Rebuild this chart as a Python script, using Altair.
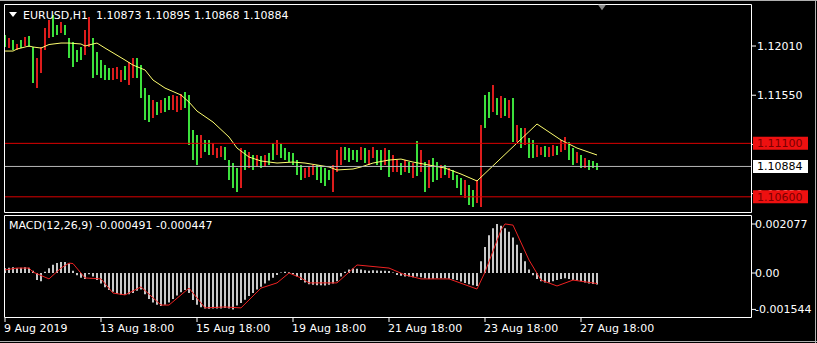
import altair as alt
import pandas as pd

# ---------------- data ----------------
highs = [1.12113, 1.12085, 1.12066, 1.12029, 1.12066, 1.12094, 1.12104, 1.12001, 1.11898, 1.12001,
         1.12178, 1.12253, 1.12300, 1.12206, 1.12234, 1.12206, 1.12085, 1.12047, 1.11973, 1.12001,
         1.12160, 1.12281, 1.12085, 1.11954, 1.11879, 1.11832, 1.11804, 1.11804, 1.11814, 1.11786,
         1.11823, 1.11860, 1.11898, 1.11898, 1.11832, 1.11617, 1.11552, 1.11505, 1.11486, 1.11505,
         1.11524, 1.11543, 1.11552, 1.11543, 1.11561, 1.11580, 1.11552, 1.11225, 1.11178, 1.11178,
         1.11131, 1.11131, 1.11103, 1.11056, 1.11075, 1.11066, 1.10944, 1.10916, 1.10869, 1.11056,
         1.11038, 1.11019, 1.10991, 1.10991, 1.10982, 1.10991, 1.11010, 1.11103, 1.11131, 1.11094,
         1.11056, 1.11019, 1.11010, 1.10944, 1.10897, 1.10869, 1.10879, 1.10897, 1.10897, 1.10879,
         1.10869, 1.10851, 1.10897, 1.11038, 1.11066, 1.11066, 1.11056, 1.11038, 1.11038, 1.11066,
         1.11056, 1.11038, 1.11066, 1.11038, 1.11038, 1.11056, 1.11038, 1.10991, 1.10944, 1.10916,
         1.10944, 1.10925, 1.10916, 1.11122, 1.11038, 1.10925, 1.10944, 1.10963, 1.10925, 1.10897,
         1.10897, 1.10869, 1.10851, 1.10804, 1.10776, 1.10757, 1.10710, 1.10664, 1.10757, 1.11271,
         1.11552, 1.11580, 1.11645, 1.11524, 1.11543, 1.11524, 1.11505, 1.11524, 1.11271, 1.11243,
         1.11243, 1.11150, 1.11131, 1.11084, 1.11066, 1.11075, 1.11066, 1.11084, 1.11075, 1.11131,
         1.11159, 1.11112, 1.11056, 1.11019, 1.10991, 1.10963, 1.10944, 1.10935, 1.10916]

lows = [1.12001, 1.11991, 1.11973, 1.11973, 1.11991, 1.12010, 1.12001, 1.11664, 1.11617, 1.11758,
        1.11973, 1.12085, 1.12094, 1.12113, 1.12132, 1.12113, 1.11898, 1.11814, 1.11860, 1.11879,
        1.11926, 1.12001, 1.11711, 1.11739, 1.11711, 1.11692, 1.11692, 1.11692, 1.11701, 1.11673,
        1.11692, 1.11645, 1.11711, 1.11711, 1.11524, 1.11318, 1.11299, 1.11337, 1.11365, 1.11384,
        1.11393, 1.11412, 1.11412, 1.11393, 1.11412, 1.11430, 1.11084, 1.10944, 1.10897, 1.10963,
        1.11019, 1.10991, 1.10991, 1.10963, 1.10972, 1.10944, 1.10757, 1.10682, 1.10645, 1.10682,
        1.10851, 1.10869, 1.10851, 1.10879, 1.10869, 1.10879, 1.10897, 1.10944, 1.10991, 1.10963,
        1.10944, 1.10925, 1.10897, 1.10804, 1.10757, 1.10776, 1.10785, 1.10804, 1.10757, 1.10729,
        1.10701, 1.10757, 1.10645, 1.10832, 1.10897, 1.10944, 1.10925, 1.10944, 1.10925, 1.10944,
        1.10916, 1.10897, 1.10963, 1.10897, 1.10851, 1.10897, 1.10785, 1.10832, 1.10832, 1.10804,
        1.10832, 1.10823, 1.10776, 1.10795, 1.10832, 1.10645, 1.10682, 1.10738, 1.10757, 1.10776,
        1.10804, 1.10776, 1.10757, 1.10682, 1.10617, 1.10589, 1.10523, 1.10505, 1.10542, 1.10505,
        1.11243, 1.11337, 1.11393, 1.11365, 1.11337, 1.11356, 1.11337, 1.11112, 1.11112, 1.11056,
        1.11084, 1.10963, 1.10963, 1.10972, 1.10991, 1.10972, 1.10972, 1.10982, 1.10991, 1.11019,
        1.11038, 1.10944, 1.10897, 1.10916, 1.10869, 1.10869, 1.10851, 1.10869, 1.10851]

# G = up bar (green), R = down bar (red)
directions = list("GRGRGRGGRR" "RRGGRGGGGG" "RRGGGGGRRR" "GRRGGGGRGR" "GGRRRGGGGR"
                  "GGRRRGGGGR" "GRGRGRGGRG" "GGGGGRRRGG" "GGRRRGGGGR" "GRRGGRGRRG"
                  "RGRGRGRGGR" "GRGGGRGGRR" "GGRGRGRGRG" "RGGRRGRRGR" "RGGRGRGGG")

macd_main = [0.00020, 0.00022, 0.00024, 0.00020, 0.00022, 0.00024, 0.00022, 0.00010, -0.00030, -0.00035,
             0.00005, 0.00020, 0.00035, 0.00042, 0.00047, 0.00047, 0.00040, 0.00010, -0.00010, -0.00020,
             -0.00025, -0.00005, -0.00015, -0.00030, -0.00045, -0.00060, -0.00072, -0.00080, -0.00088, -0.00092,
             -0.00092, -0.00090, -0.00085, -0.00075, -0.00070, -0.00090, -0.00110, -0.00125, -0.00135, -0.00140,
             -0.00135, -0.00125, -0.00110, -0.00095, -0.00082, -0.00072, -0.00085, -0.00115, -0.00135, -0.00145,
             -0.00150, -0.00152, -0.00150, -0.00150, -0.00150, -0.00148, -0.00150, -0.001544, -0.00138, -0.00127,
             -0.00113, -0.00098, -0.00085, -0.00070, -0.00058, -0.00045, -0.00032, -0.00020, -0.00008, 0.00002,
             0.00005, 0.00003, -0.00005, -0.00015, -0.00030, -0.00040, -0.00048, -0.00050, -0.00052, -0.00052,
             -0.00053, -0.00050, -0.00045, -0.00035, -0.00015, 0.00005, 0.00015, 0.00019, 0.00018, 0.00015,
             0.00012, 0.00010, 0.00012, 0.00011, 0.00010, 0.00010, 0.00008, 0.00002, -0.00008, -0.00012,
             -0.00015, -0.00015, -0.00018, -0.00015, -0.00018, -0.00022, -0.00025, -0.00024, -0.00022, -0.00022,
             -0.00022, -0.00024, -0.00026, -0.00030, -0.00036, -0.00042, -0.00048, -0.00052, -0.00055, 0.00050,
             0.00110, 0.00160, 0.00190, 0.002077, 0.00200, 0.00190, 0.00175, 0.00150, 0.00120, 0.00085,
             0.00050, 0.00015, -0.00010, -0.00025, -0.00035, -0.00040, -0.00040, -0.00035, -0.00030, -0.00025,
             -0.00022, -0.00025, -0.00030, -0.00032, -0.00035, -0.00040, -0.00044, -0.00047, -0.000491]

signal_idx = [0, 3, 6, 7, 11, 14, 16, 17, 20, 24, 27, 30, 34, 39, 41, 46, 50, 55, 59, 64,
              68, 71, 74, 76, 83, 88, 96, 100, 104, 111, 118, 120, 124, 125, 127, 131, 134, 138, 142, 148]
signal_val = [0.00013, 0.00021, 0.00021, 0.00004, -0.00025, 0.00021, 0.00042, 0.00040, -0.00021, -0.00025,
              -0.00085, -0.00093, -0.00059, -0.00136, -0.00136, -0.00064, -0.00148, -0.00144, -0.00148, -0.00064,
              -0.00042, 0.0, -0.00021, -0.00042, -0.00042, 0.00034, 0.00021, -0.00008, -0.00025, -0.00025,
              -0.00068, 0.00004, 0.00182, 0.00208, 0.00203, 0.00055, -0.00030, -0.00055, -0.00030, -0.000447]

ma_idx = [0, 2, 3, 6, 7, 9, 11, 14, 16, 19, 20, 22, 23, 25, 30, 32, 35, 37, 40, 44, 46, 48, 52,
          56, 58, 61, 64, 68, 72, 75, 81, 83, 87, 89, 92, 96, 99, 102, 106, 110, 114, 118, 133, 139, 143, 148]
ma_val = [1.11963, 1.11963, 1.11982, 1.12010, 1.12001, 1.11991, 1.12024, 1.12038, 1.12038, 1.12029,
          1.12010, 1.12029, 1.12038, 1.11991, 1.11879, 1.11832, 1.11786, 1.11692, 1.11617, 1.11552,
          1.11486, 1.11402, 1.11299, 1.11159, 1.11056, 1.10972, 1.10935, 1.10916, 1.10925, 1.10916,
          1.10879, 1.10851, 1.10860, 1.10879, 1.10916, 1.10944, 1.10953, 1.10925, 1.10897, 1.10869,
          1.10813, 1.10748, 1.11281, 1.11131, 1.11056, 1.10991]

date_idx = [0, 24, 48, 72, 96, 120, 144]
date_labels = ["9 Aug 2019", "13 Aug 18:00", "15 Aug 18:00", "19 Aug 18:00",
               "21 Aug 18:00", "23 Aug 18:00", "27 Aug 18:00"]
price_ticks = [1.12010, 1.11550, 1.11090, 1.10630]
macd_ticks = [0.002077, 0.0, -0.001544]
macd_tick_labels = ["0.002077", "0.00", "-0.001544"]
level_prices = [1.11100, 1.10600]
bid_price = [1.10884]
title_symbol = "EURUSD,H1"
title_ohlc = "1.10873 1.10895 1.10868 1.10884"
macd_title = "MACD(12,26,9) -0.000491 -0.000447"

# ---------------- styling ----------------
FONT = "DejaVu Sans"
GREEN = "#3ce03c"
RED = "#dd1c1c"
LEVEL_RED = "#dd0000"
TXT = "#ffffff"

n = len(highs)
bars_df = pd.DataFrame({"i": list(range(n)), "high": highs, "low": lows, "dir": directions})
macd_df = pd.DataFrame({"i": list(range(n)), "v": macd_main})
sig_df = pd.DataFrame({"i": signal_idx, "v": signal_val})
ma_df = pd.DataFrame({"i": ma_idx, "price": ma_val})
date_df = pd.DataFrame({"i": date_idx, "label": date_labels})
pt_df = pd.DataFrame({"price": price_ticks, "label": [f"{p:.5f}" for p in price_ticks]})
mt_df = pd.DataFrame({"v": macd_ticks, "label": macd_tick_labels})
lvl_df = pd.DataFrame({"price": level_prices, "label": [f"{p:.5f}" for p in level_prices]})
bid_df = pd.DataFrame({"price": bid_price, "label": [f"{p:.5f}" for p in bid_price]})
one = pd.DataFrame({"a": [0]})

XS = alt.Scale(domain=[0, 148], range=[5, 597], nice=False, zero=False)
PS = alt.Scale(domain=[1.10458, 1.12403], range=[212, 4], nice=False, zero=False)
MS = alt.Scale(domain=[-0.0018656, 0.0024592], range=[317, 215], nice=False, zero=False)

X = alt.X("i:Q", scale=XS, axis=None)
BOX = "M-1,-0.2364L1,-0.2364L1,0.2364L-1,0.2364Z"

bars = alt.Chart(bars_df).mark_rule(strokeWidth=2).encode(
    x=X,
    y=alt.Y("low:Q", scale=PS, axis=None),
    y2="high:Q",
    color=alt.Color("dir:N", scale=alt.Scale(domain=["G", "R"], range=[GREEN, RED]), legend=None),
)
ma = alt.Chart(ma_df).mark_line(color="#ffff70", strokeWidth=1).encode(
    x=X, y=alt.Y("price:Q", scale=PS, axis=None))
bid_line = alt.Chart(bid_df).mark_rule(color="#b8b8b8", strokeWidth=1).encode(
    y=alt.Y("price:Q", scale=PS, axis=None), x=alt.value(5), x2=alt.value(751))
lvl_lines = alt.Chart(lvl_df).mark_rule(color=LEVEL_RED, strokeWidth=1).encode(
    y=alt.Y("price:Q", scale=PS, axis=None), x=alt.value(5), x2=alt.value(751))

p_ticks = alt.Chart(pt_df).mark_rule(color=TXT).encode(
    y=alt.Y("price:Q", scale=PS, axis=None), x=alt.value(752), x2=alt.value(756))
p_labels = alt.Chart(pt_df).mark_text(align="left", baseline="alphabetic", dy=4, font=FONT,
                                      fontSize=11, color=TXT).encode(
    y=alt.Y("price:Q", scale=PS, axis=None), x=alt.value(757), text="label:N")

lvl_boxes = alt.Chart(lvl_df).mark_point(shape=BOX, size=3025, filled=True, opacity=1,
                                         color="#ee1010", strokeWidth=0).encode(
    y=alt.Y("price:Q", scale=PS, axis=None), x=alt.value(780.5))
lvl_text = alt.Chart(lvl_df).mark_text(align="left", baseline="alphabetic", dy=4, font=FONT,
                                       fontSize=11, color="#7a0000").encode(
    y=alt.Y("price:Q", scale=PS, axis=None), x=alt.value(757), text="label:N")
bid_box = alt.Chart(bid_df).mark_point(shape=BOX, size=3025, filled=True, opacity=1,
                                       color="#ffffff", strokeWidth=0).encode(
    y=alt.Y("price:Q", scale=PS, axis=None), x=alt.value(780.5))
bid_text = alt.Chart(bid_df).mark_text(align="left", baseline="alphabetic", dy=4, font=FONT,
                                       fontSize=11, color="#000000").encode(
    y=alt.Y("price:Q", scale=PS, axis=None), x=alt.value(757), text="label:N")

hist = alt.Chart(macd_df).mark_rule(strokeWidth=2, color="#c8c8c8").encode(
    x=X, y=alt.Y("v:Q", scale=MS, axis=None), y2=alt.datum(0))
signal = alt.Chart(sig_df).mark_line(color="#ee2222", strokeWidth=1).encode(
    x=X, y=alt.Y("v:Q", scale=MS, axis=None))
m_ticks = alt.Chart(mt_df).mark_rule(color=TXT).encode(
    y=alt.Y("v:Q", scale=MS, axis=None), x=alt.value(752), x2=alt.value(756))
m_labels = alt.Chart(mt_df).mark_text(align="left", baseline="alphabetic", dy=4, font=FONT,
                                      fontSize=11, color=TXT).encode(
    y=alt.Y("v:Q", scale=MS, axis=None), x=alt.value(755), text="label:N")

d_ticks = alt.Chart(date_df).mark_rule(color=TXT).encode(
    x=X, y=alt.value(318), y2=alt.value(322))
d_labels = alt.Chart(date_df).mark_text(align="left", baseline="alphabetic", dx=-1, font=FONT,
                                        fontSize=11, color=TXT).encode(
    x=X, y=alt.value(332), text="label:N")

main_frame = alt.Chart(one).mark_rect(fillOpacity=0, stroke="#ffffff", strokeWidth=1).encode(
    x=alt.value(4.5), x2=alt.value(751.5), y=alt.value(4.5), y2=alt.value(212.5))
macd_frame = alt.Chart(one).mark_rect(fillOpacity=0, stroke="#ffffff", strokeWidth=1).encode(
    x=alt.value(4.5), x2=alt.value(751.5), y=alt.value(215.5), y2=alt.value(317.5))
top_edge = alt.Chart(one).mark_rule(color="#b0b0b0").encode(
    x=alt.value(0), x2=alt.value(817), y=alt.value(0.5))
bottom_edge = alt.Chart(one).mark_rule(color="#b0b0b0").encode(
    x=alt.value(0), x2=alt.value(817), y=alt.value(341.5))
right_edge = alt.Chart(one).mark_rule(color="#b0b0b0").encode(
    x=alt.value(815.5), y=alt.value(0), y2=alt.value(343))

title_tri = alt.Chart(one).mark_point(shape="M-1,-0.6L1,-0.6L0,0.6Z", size=64, filled=True,
                                      opacity=1, color="#ffffff", strokeWidth=0).encode(
    x=alt.value(13), y=alt.value(14.5))
shift_tri = alt.Chart(one).mark_point(shape="M-1,-0.7L1,-0.7L0,0.7Z", size=64, filled=True,
                                      opacity=1, color="#8a8a8a", strokeWidth=0).encode(
    x=alt.value(602), y=alt.value(7.5))
t1 = alt.Chart(one).mark_text(align="left", baseline="alphabetic", font=FONT, fontSize=11,
                              color=TXT, text=title_symbol).encode(x=alt.value(23), y=alt.value(19))
t2 = alt.Chart(one).mark_text(align="left", baseline="alphabetic", font=FONT, fontSize=11,
                              color=TXT, text=title_ohlc).encode(x=alt.value(96), y=alt.value(19))
t3 = alt.Chart(one).mark_text(align="left", baseline="alphabetic", font=FONT, fontSize=11,
                              color=TXT, text=macd_title).encode(x=alt.value(9), y=alt.value(229))

chart = alt.layer(
    bars, ma, bid_line, lvl_lines, hist, signal,
    p_ticks, p_labels, lvl_boxes, lvl_text, bid_box, bid_text,
    m_ticks, m_labels, d_ticks, d_labels,
    main_frame, macd_frame, top_edge, bottom_edge, right_edge,
    title_tri, shift_tri, t1, t2, t3,
).resolve_scale(y="independent").properties(
    width=817, height=343, background="#000000", padding=0,
    autosize=alt.AutoSizeParams(type="none"),
).configure_view(strokeWidth=0)

chart.save("out.html", embed_options={"renderer": "svg", "actions": False})
